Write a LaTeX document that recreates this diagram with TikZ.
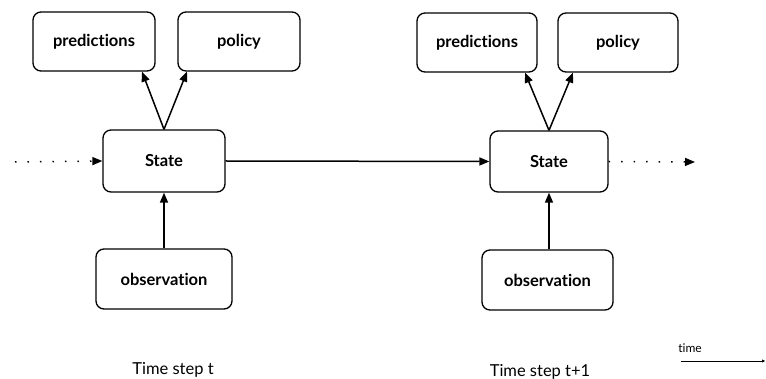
\documentclass[tikz,border=0pt]{standalone}
\usepackage{fontspec}
\setmainfont[Ligatures=NoCommon]{Lato}
\usetikzlibrary{arrows.meta}
\begin{document}
\begin{tikzpicture}[x=1pt,y=-1pt,
  box/.style={draw=black,line width=1.3pt,rounded corners=8pt,font=\fontsize{16.5}{18}\selectfont\bfseries,inner sep=0pt},
  arr/.style={line width=1.5pt,-{Triangle[length=10pt,width=8pt]}},
  dotarr/.style={line width=1.5pt,dash pattern=on 1.5pt off 11pt,-{Triangle[length=10pt,width=8pt]}},
  lbl/.style={font=\fontsize{16.5}{18}\selectfont}]
\useasboundingbox (0,0) rectangle (766,379);
% left step
\node[box,minimum width=122pt,minimum height=59pt] (p1) at (94,41.5) {predictions};
\node[box,minimum width=122pt,minimum height=59pt] (q1) at (239,41.5) {policy};
\node[box,minimum width=122pt,minimum height=62pt] (s1) at (164,161) {State};
\node[box,minimum width=136pt,minimum height=60pt] (o1) at (164,279) {observation};
% right step
\node[box,minimum width=120pt,minimum height=59pt] (p2) at (477,42.5) {predictions};
\node[box,minimum width=120pt,minimum height=59pt] (q2) at (618,42.5) {policy};
\node[box,minimum width=118pt,minimum height=61pt] (s2) at (549,161.5) {State};
\node[box,minimum width=131pt,minimum height=60pt] (o2) at (547.5,280) {observation};
% connectors
\coordinate (dl) at (15,162);
\coordinate (dr) at (695,162);
\draw[dotarr] (dl) -- (s1.west);
\draw[arr] (s1.east) -- (s2.west);
\draw[dotarr] (s2.east) -- (dr);
\draw[arr] (s1.north) -- (p1.south -| 142,0);
\draw[arr] (s1.north) -- (q1.south -| 187,0);
\draw[arr] (o1.north) -- (s1.south);
\draw[arr] (s2.north) -- (p2.south -| 525,0);
\draw[arr] (s2.north) -- (q2.south -| 573,0);
\draw[arr] (o2.north -| s2.south) -- (s2.south);
% labels
\node[lbl] (t1) at (173,370) {Time step t};
\node[lbl] (t2) at (540,372) {Time step t+1};
\node[font=\fontsize{12}{14}\selectfont] (tm) at (690,348) {time};
\coordinate (ta) at (681,361);
\coordinate (tb) at (765,361);
\draw[line width=0.6pt,-{Triangle[length=3pt,width=3pt]}] (ta) -- (tb);
\end{tikzpicture}
\end{document}
